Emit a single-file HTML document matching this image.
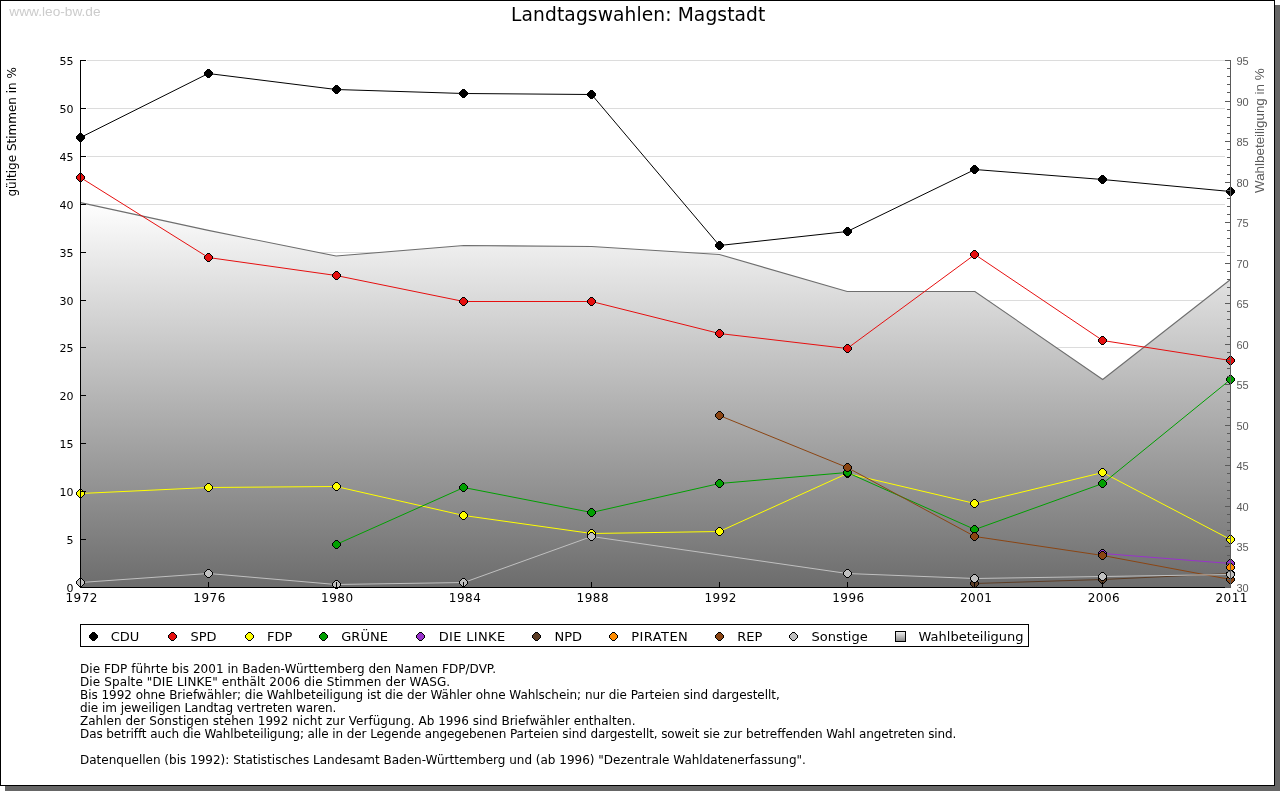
<!DOCTYPE html>
<html lang="de">
<head>
<meta charset="utf-8">
<title>Landtagswahlen: Magstadt</title>
<style>
html,body{margin:0;padding:0;background:#fff;}
body{width:1280px;height:791px;overflow:hidden;position:relative;}
svg{position:absolute;left:0;top:0;display:block;}
.dv{font-family:"DejaVu Sans","Liberation Sans",sans-serif;font-variant-ligatures:none;}
.lb{font-family:"Liberation Sans","DejaVu Sans",sans-serif;}
</style>
</head>
<body>
<svg width="1280" height="791" viewBox="0 0 1280 791">
<defs>
<linearGradient id="wbg" gradientUnits="userSpaceOnUse" x1="0" y1="202" x2="0" y2="587.5">
<stop offset="0" stop-color="#ffffff"/>
<stop offset="1" stop-color="#6c6c6c"/>
</linearGradient>
<linearGradient id="sqg" x1="0" y1="0" x2="0" y2="1">
<stop offset="0" stop-color="#f2f2f2"/>
<stop offset="1" stop-color="#858585"/>
</linearGradient>
</defs>

<g shape-rendering="crispEdges">
<rect x="5" y="5" width="1275" height="786" fill="#666666"/>
<rect x="0.5" y="0.5" width="1274" height="785" fill="#ffffff" stroke="#000000" stroke-width="1"/>
</g>
<text class="lb" x="9.3" y="15.8" font-size="13.7" fill="#cccccc" textLength="91.3" lengthAdjust="spacing">www.leo-bw.de</text>
<text class="dv" x="638.2" y="20.6" font-size="18.67" fill="#000000" text-anchor="middle" textLength="254.3" lengthAdjust="spacing">Landtagswahlen: Magstadt</text>
<g shape-rendering="crispEdges" stroke="#dcdcdc" stroke-width="1">
<line x1="87" y1="60.5" x2="1225" y2="60.5"/>
<line x1="87" y1="108.5" x2="1225" y2="108.5"/>
<line x1="87" y1="156.5" x2="1225" y2="156.5"/>
<line x1="87" y1="204.5" x2="1225" y2="204.5"/>
<line x1="87" y1="252.5" x2="1225" y2="252.5"/>
<line x1="87" y1="300.5" x2="1225" y2="300.5"/>
<line x1="87" y1="347.5" x2="1225" y2="347.5"/>
<line x1="87" y1="395.5" x2="1225" y2="395.5"/>
<line x1="87" y1="443.5" x2="1225" y2="443.5"/>
<line x1="87" y1="491.5" x2="1225" y2="491.5"/>
<line x1="87" y1="539.5" x2="1225" y2="539.5"/>
<line x1="87" y1="587.5" x2="1225" y2="587.5"/>
</g>
<polygon points="80.5,202.6 208.3,230.4 336.1,256.0 463.8,245.5 591.6,246.5 719.4,254.5 847.2,291.5 974.9,291.5 1102.7,379.5 1230.5,279.5 1230.5,587.5 80.5,587.5" fill="url(#wbg)"/>
<polyline points="80.5,202.6 208.3,230.4 336.1,256.0 463.8,245.5 591.6,246.5 719.4,254.5 847.2,291.5 974.9,291.5 1102.7,379.5 1230.5,279.5" fill="none" stroke="#6e6e6e" stroke-width="1.1"/>
<polyline points="80.5,137.5 208.3,73.5 336.1,89.5 463.8,93.5 591.6,94.5 719.4,245.5 847.2,231.5 974.9,169.5 1102.7,179.5 1230.5,191.5" fill="none" stroke="#000000" stroke-width="1.0"/>
<g shape-rendering="crispEdges">
<polygon transform="translate(80.5 137.5)" points="-1,-4.5 1,-4.5 4.5,-1 4.5,1 1,4.5 -1,4.5 -4.5,1 -4.5,-1" fill="#000000"/>
<polygon transform="translate(208.5 73.5)" points="-1,-4.5 1,-4.5 4.5,-1 4.5,1 1,4.5 -1,4.5 -4.5,1 -4.5,-1" fill="#000000"/>
<polygon transform="translate(336.5 89.5)" points="-1,-4.5 1,-4.5 4.5,-1 4.5,1 1,4.5 -1,4.5 -4.5,1 -4.5,-1" fill="#000000"/>
<polygon transform="translate(463.5 93.5)" points="-1,-4.5 1,-4.5 4.5,-1 4.5,1 1,4.5 -1,4.5 -4.5,1 -4.5,-1" fill="#000000"/>
<polygon transform="translate(591.5 94.5)" points="-1,-4.5 1,-4.5 4.5,-1 4.5,1 1,4.5 -1,4.5 -4.5,1 -4.5,-1" fill="#000000"/>
<polygon transform="translate(719.5 245.5)" points="-1,-4.5 1,-4.5 4.5,-1 4.5,1 1,4.5 -1,4.5 -4.5,1 -4.5,-1" fill="#000000"/>
<polygon transform="translate(847.5 231.5)" points="-1,-4.5 1,-4.5 4.5,-1 4.5,1 1,4.5 -1,4.5 -4.5,1 -4.5,-1" fill="#000000"/>
<polygon transform="translate(974.5 169.5)" points="-1,-4.5 1,-4.5 4.5,-1 4.5,1 1,4.5 -1,4.5 -4.5,1 -4.5,-1" fill="#000000"/>
<polygon transform="translate(1102.5 179.5)" points="-1,-4.5 1,-4.5 4.5,-1 4.5,1 1,4.5 -1,4.5 -4.5,1 -4.5,-1" fill="#000000"/>
<polygon transform="translate(1230.5 191.5)" points="-1,-4.5 1,-4.5 4.5,-1 4.5,1 1,4.5 -1,4.5 -4.5,1 -4.5,-1" fill="#000000"/>
</g>
<polyline points="80.5,177.5 208.3,257.5 336.1,275.5 463.8,301.5 591.6,301.5 719.4,333.5 847.2,348.5 974.9,254.5 1102.7,340.5 1230.5,360.5" fill="none" stroke="#e60f0f" stroke-width="1.0"/>
<g shape-rendering="crispEdges">
<polygon transform="translate(80.5 177.5)" points="-1,-4.5 1,-4.5 4.5,-1 4.5,1 1,4.5 -1,4.5 -4.5,1 -4.5,-1" fill="#000000"/>
<polygon transform="translate(80.5 177.5)" points="-1,-3.5 1,-3.5 3.5,-1 3.5,1 1,3.5 -1,3.5 -3.5,1 -3.5,-1" fill="#e60f0f"/>
<polygon transform="translate(208.5 257.5)" points="-1,-4.5 1,-4.5 4.5,-1 4.5,1 1,4.5 -1,4.5 -4.5,1 -4.5,-1" fill="#000000"/>
<polygon transform="translate(208.5 257.5)" points="-1,-3.5 1,-3.5 3.5,-1 3.5,1 1,3.5 -1,3.5 -3.5,1 -3.5,-1" fill="#e60f0f"/>
<polygon transform="translate(336.5 275.5)" points="-1,-4.5 1,-4.5 4.5,-1 4.5,1 1,4.5 -1,4.5 -4.5,1 -4.5,-1" fill="#000000"/>
<polygon transform="translate(336.5 275.5)" points="-1,-3.5 1,-3.5 3.5,-1 3.5,1 1,3.5 -1,3.5 -3.5,1 -3.5,-1" fill="#e60f0f"/>
<polygon transform="translate(463.5 301.5)" points="-1,-4.5 1,-4.5 4.5,-1 4.5,1 1,4.5 -1,4.5 -4.5,1 -4.5,-1" fill="#000000"/>
<polygon transform="translate(463.5 301.5)" points="-1,-3.5 1,-3.5 3.5,-1 3.5,1 1,3.5 -1,3.5 -3.5,1 -3.5,-1" fill="#e60f0f"/>
<polygon transform="translate(591.5 301.5)" points="-1,-4.5 1,-4.5 4.5,-1 4.5,1 1,4.5 -1,4.5 -4.5,1 -4.5,-1" fill="#000000"/>
<polygon transform="translate(591.5 301.5)" points="-1,-3.5 1,-3.5 3.5,-1 3.5,1 1,3.5 -1,3.5 -3.5,1 -3.5,-1" fill="#e60f0f"/>
<polygon transform="translate(719.5 333.5)" points="-1,-4.5 1,-4.5 4.5,-1 4.5,1 1,4.5 -1,4.5 -4.5,1 -4.5,-1" fill="#000000"/>
<polygon transform="translate(719.5 333.5)" points="-1,-3.5 1,-3.5 3.5,-1 3.5,1 1,3.5 -1,3.5 -3.5,1 -3.5,-1" fill="#e60f0f"/>
<polygon transform="translate(847.5 348.5)" points="-1,-4.5 1,-4.5 4.5,-1 4.5,1 1,4.5 -1,4.5 -4.5,1 -4.5,-1" fill="#000000"/>
<polygon transform="translate(847.5 348.5)" points="-1,-3.5 1,-3.5 3.5,-1 3.5,1 1,3.5 -1,3.5 -3.5,1 -3.5,-1" fill="#e60f0f"/>
<polygon transform="translate(974.5 254.5)" points="-1,-4.5 1,-4.5 4.5,-1 4.5,1 1,4.5 -1,4.5 -4.5,1 -4.5,-1" fill="#000000"/>
<polygon transform="translate(974.5 254.5)" points="-1,-3.5 1,-3.5 3.5,-1 3.5,1 1,3.5 -1,3.5 -3.5,1 -3.5,-1" fill="#e60f0f"/>
<polygon transform="translate(1102.5 340.5)" points="-1,-4.5 1,-4.5 4.5,-1 4.5,1 1,4.5 -1,4.5 -4.5,1 -4.5,-1" fill="#000000"/>
<polygon transform="translate(1102.5 340.5)" points="-1,-3.5 1,-3.5 3.5,-1 3.5,1 1,3.5 -1,3.5 -3.5,1 -3.5,-1" fill="#e60f0f"/>
<polygon transform="translate(1230.5 360.5)" points="-1,-4.5 1,-4.5 4.5,-1 4.5,1 1,4.5 -1,4.5 -4.5,1 -4.5,-1" fill="#000000"/>
<polygon transform="translate(1230.5 360.5)" points="-1,-3.5 1,-3.5 3.5,-1 3.5,1 1,3.5 -1,3.5 -3.5,1 -3.5,-1" fill="#e60f0f"/>
</g>
<polyline points="80.5,493.5 208.3,487.5 336.1,486.5 463.8,515.5 591.6,533.5 719.4,531.5 847.2,473.5 974.9,503.5 1102.7,472.5 1230.5,539.5" fill="none" stroke="#ffff00" stroke-width="1.0"/>
<g shape-rendering="crispEdges">
<polygon transform="translate(80.5 493.5)" points="-1,-4.5 1,-4.5 4.5,-1 4.5,1 1,4.5 -1,4.5 -4.5,1 -4.5,-1" fill="#000000"/>
<polygon transform="translate(80.5 493.5)" points="-1,-3.5 1,-3.5 3.5,-1 3.5,1 1,3.5 -1,3.5 -3.5,1 -3.5,-1" fill="#ffff00"/>
<polygon transform="translate(208.5 487.5)" points="-1,-4.5 1,-4.5 4.5,-1 4.5,1 1,4.5 -1,4.5 -4.5,1 -4.5,-1" fill="#000000"/>
<polygon transform="translate(208.5 487.5)" points="-1,-3.5 1,-3.5 3.5,-1 3.5,1 1,3.5 -1,3.5 -3.5,1 -3.5,-1" fill="#ffff00"/>
<polygon transform="translate(336.5 486.5)" points="-1,-4.5 1,-4.5 4.5,-1 4.5,1 1,4.5 -1,4.5 -4.5,1 -4.5,-1" fill="#000000"/>
<polygon transform="translate(336.5 486.5)" points="-1,-3.5 1,-3.5 3.5,-1 3.5,1 1,3.5 -1,3.5 -3.5,1 -3.5,-1" fill="#ffff00"/>
<polygon transform="translate(463.5 515.5)" points="-1,-4.5 1,-4.5 4.5,-1 4.5,1 1,4.5 -1,4.5 -4.5,1 -4.5,-1" fill="#000000"/>
<polygon transform="translate(463.5 515.5)" points="-1,-3.5 1,-3.5 3.5,-1 3.5,1 1,3.5 -1,3.5 -3.5,1 -3.5,-1" fill="#ffff00"/>
<polygon transform="translate(591.5 533.5)" points="-1,-4.5 1,-4.5 4.5,-1 4.5,1 1,4.5 -1,4.5 -4.5,1 -4.5,-1" fill="#000000"/>
<polygon transform="translate(591.5 533.5)" points="-1,-3.5 1,-3.5 3.5,-1 3.5,1 1,3.5 -1,3.5 -3.5,1 -3.5,-1" fill="#ffff00"/>
<polygon transform="translate(719.5 531.5)" points="-1,-4.5 1,-4.5 4.5,-1 4.5,1 1,4.5 -1,4.5 -4.5,1 -4.5,-1" fill="#000000"/>
<polygon transform="translate(719.5 531.5)" points="-1,-3.5 1,-3.5 3.5,-1 3.5,1 1,3.5 -1,3.5 -3.5,1 -3.5,-1" fill="#ffff00"/>
<polygon transform="translate(847.5 473.5)" points="-1,-4.5 1,-4.5 4.5,-1 4.5,1 1,4.5 -1,4.5 -4.5,1 -4.5,-1" fill="#000000"/>
<polygon transform="translate(847.5 473.5)" points="-1,-3.5 1,-3.5 3.5,-1 3.5,1 1,3.5 -1,3.5 -3.5,1 -3.5,-1" fill="#ffff00"/>
<polygon transform="translate(974.5 503.5)" points="-1,-4.5 1,-4.5 4.5,-1 4.5,1 1,4.5 -1,4.5 -4.5,1 -4.5,-1" fill="#000000"/>
<polygon transform="translate(974.5 503.5)" points="-1,-3.5 1,-3.5 3.5,-1 3.5,1 1,3.5 -1,3.5 -3.5,1 -3.5,-1" fill="#ffff00"/>
<polygon transform="translate(1102.5 472.5)" points="-1,-4.5 1,-4.5 4.5,-1 4.5,1 1,4.5 -1,4.5 -4.5,1 -4.5,-1" fill="#000000"/>
<polygon transform="translate(1102.5 472.5)" points="-1,-3.5 1,-3.5 3.5,-1 3.5,1 1,3.5 -1,3.5 -3.5,1 -3.5,-1" fill="#ffff00"/>
<polygon transform="translate(1230.5 539.5)" points="-1,-4.5 1,-4.5 4.5,-1 4.5,1 1,4.5 -1,4.5 -4.5,1 -4.5,-1" fill="#000000"/>
<polygon transform="translate(1230.5 539.5)" points="-1,-3.5 1,-3.5 3.5,-1 3.5,1 1,3.5 -1,3.5 -3.5,1 -3.5,-1" fill="#ffff00"/>
</g>
<polyline points="336.1,544.5 463.8,487.5 591.6,512.5 719.4,483.5 847.2,472.5 974.9,529.5 1102.7,483.5 1230.5,379.5" fill="none" stroke="#00a000" stroke-width="1.0"/>
<g shape-rendering="crispEdges">
<polygon transform="translate(336.5 544.5)" points="-1,-4.5 1,-4.5 4.5,-1 4.5,1 1,4.5 -1,4.5 -4.5,1 -4.5,-1" fill="#000000"/>
<polygon transform="translate(336.5 544.5)" points="-1,-3.5 1,-3.5 3.5,-1 3.5,1 1,3.5 -1,3.5 -3.5,1 -3.5,-1" fill="#00a000"/>
<polygon transform="translate(463.5 487.5)" points="-1,-4.5 1,-4.5 4.5,-1 4.5,1 1,4.5 -1,4.5 -4.5,1 -4.5,-1" fill="#000000"/>
<polygon transform="translate(463.5 487.5)" points="-1,-3.5 1,-3.5 3.5,-1 3.5,1 1,3.5 -1,3.5 -3.5,1 -3.5,-1" fill="#00a000"/>
<polygon transform="translate(591.5 512.5)" points="-1,-4.5 1,-4.5 4.5,-1 4.5,1 1,4.5 -1,4.5 -4.5,1 -4.5,-1" fill="#000000"/>
<polygon transform="translate(591.5 512.5)" points="-1,-3.5 1,-3.5 3.5,-1 3.5,1 1,3.5 -1,3.5 -3.5,1 -3.5,-1" fill="#00a000"/>
<polygon transform="translate(719.5 483.5)" points="-1,-4.5 1,-4.5 4.5,-1 4.5,1 1,4.5 -1,4.5 -4.5,1 -4.5,-1" fill="#000000"/>
<polygon transform="translate(719.5 483.5)" points="-1,-3.5 1,-3.5 3.5,-1 3.5,1 1,3.5 -1,3.5 -3.5,1 -3.5,-1" fill="#00a000"/>
<polygon transform="translate(847.5 472.5)" points="-1,-4.5 1,-4.5 4.5,-1 4.5,1 1,4.5 -1,4.5 -4.5,1 -4.5,-1" fill="#000000"/>
<polygon transform="translate(847.5 472.5)" points="-1,-3.5 1,-3.5 3.5,-1 3.5,1 1,3.5 -1,3.5 -3.5,1 -3.5,-1" fill="#00a000"/>
<polygon transform="translate(974.5 529.5)" points="-1,-4.5 1,-4.5 4.5,-1 4.5,1 1,4.5 -1,4.5 -4.5,1 -4.5,-1" fill="#000000"/>
<polygon transform="translate(974.5 529.5)" points="-1,-3.5 1,-3.5 3.5,-1 3.5,1 1,3.5 -1,3.5 -3.5,1 -3.5,-1" fill="#00a000"/>
<polygon transform="translate(1102.5 483.5)" points="-1,-4.5 1,-4.5 4.5,-1 4.5,1 1,4.5 -1,4.5 -4.5,1 -4.5,-1" fill="#000000"/>
<polygon transform="translate(1102.5 483.5)" points="-1,-3.5 1,-3.5 3.5,-1 3.5,1 1,3.5 -1,3.5 -3.5,1 -3.5,-1" fill="#00a000"/>
<polygon transform="translate(1230.5 379.5)" points="-1,-4.5 1,-4.5 4.5,-1 4.5,1 1,4.5 -1,4.5 -4.5,1 -4.5,-1" fill="#000000"/>
<polygon transform="translate(1230.5 379.5)" points="-1,-3.5 1,-3.5 3.5,-1 3.5,1 1,3.5 -1,3.5 -3.5,1 -3.5,-1" fill="#00a000"/>
</g>
<polyline points="1102.7,553.5 1230.5,563.5" fill="none" stroke="#9932cc" stroke-width="1.0"/>
<g shape-rendering="crispEdges">
<polygon transform="translate(1102.5 553.5)" points="-1,-4.5 1,-4.5 4.5,-1 4.5,1 1,4.5 -1,4.5 -4.5,1 -4.5,-1" fill="#000000"/>
<polygon transform="translate(1102.5 553.5)" points="-1,-3.5 1,-3.5 3.5,-1 3.5,1 1,3.5 -1,3.5 -3.5,1 -3.5,-1" fill="#9932cc"/>
<polygon transform="translate(1230.5 563.5)" points="-1,-4.5 1,-4.5 4.5,-1 4.5,1 1,4.5 -1,4.5 -4.5,1 -4.5,-1" fill="#000000"/>
<polygon transform="translate(1230.5 563.5)" points="-1,-3.5 1,-3.5 3.5,-1 3.5,1 1,3.5 -1,3.5 -3.5,1 -3.5,-1" fill="#9932cc"/>
</g>
<polyline points="974.9,583.5 1102.7,579.5 1230.5,573.5" fill="none" stroke="#5c3d25" stroke-width="1.0"/>
<g shape-rendering="crispEdges">
<polygon transform="translate(974.5 583.5)" points="-1,-4.5 1,-4.5 4.5,-1 4.5,1 1,4.5 -1,4.5 -4.5,1 -4.5,-1" fill="#000000"/>
<polygon transform="translate(974.5 583.5)" points="-1,-3.5 1,-3.5 3.5,-1 3.5,1 1,3.5 -1,3.5 -3.5,1 -3.5,-1" fill="#5c3d25"/>
<polygon transform="translate(1102.5 579.5)" points="-1,-4.5 1,-4.5 4.5,-1 4.5,1 1,4.5 -1,4.5 -4.5,1 -4.5,-1" fill="#000000"/>
<polygon transform="translate(1102.5 579.5)" points="-1,-3.5 1,-3.5 3.5,-1 3.5,1 1,3.5 -1,3.5 -3.5,1 -3.5,-1" fill="#5c3d25"/>
<polygon transform="translate(1230.5 573.5)" points="-1,-4.5 1,-4.5 4.5,-1 4.5,1 1,4.5 -1,4.5 -4.5,1 -4.5,-1" fill="#000000"/>
<polygon transform="translate(1230.5 573.5)" points="-1,-3.5 1,-3.5 3.5,-1 3.5,1 1,3.5 -1,3.5 -3.5,1 -3.5,-1" fill="#5c3d25"/>
</g>
<g shape-rendering="crispEdges">
<polygon transform="translate(1230.5 567.5)" points="-1,-4.5 1,-4.5 4.5,-1 4.5,1 1,4.5 -1,4.5 -4.5,1 -4.5,-1" fill="#000000"/>
<polygon transform="translate(1230.5 567.5)" points="-1,-3.5 1,-3.5 3.5,-1 3.5,1 1,3.5 -1,3.5 -3.5,1 -3.5,-1" fill="#ff8c00"/>
</g>
<polyline points="719.4,415.5 847.2,467.5 974.9,536.5 1102.7,555.5 1230.5,579.5" fill="none" stroke="#8b4513" stroke-width="1.0"/>
<g shape-rendering="crispEdges">
<polygon transform="translate(719.5 415.5)" points="-1,-4.5 1,-4.5 4.5,-1 4.5,1 1,4.5 -1,4.5 -4.5,1 -4.5,-1" fill="#000000"/>
<polygon transform="translate(719.5 415.5)" points="-1,-3.5 1,-3.5 3.5,-1 3.5,1 1,3.5 -1,3.5 -3.5,1 -3.5,-1" fill="#8b4513"/>
<polygon transform="translate(847.5 467.5)" points="-1,-4.5 1,-4.5 4.5,-1 4.5,1 1,4.5 -1,4.5 -4.5,1 -4.5,-1" fill="#000000"/>
<polygon transform="translate(847.5 467.5)" points="-1,-3.5 1,-3.5 3.5,-1 3.5,1 1,3.5 -1,3.5 -3.5,1 -3.5,-1" fill="#8b4513"/>
<polygon transform="translate(974.5 536.5)" points="-1,-4.5 1,-4.5 4.5,-1 4.5,1 1,4.5 -1,4.5 -4.5,1 -4.5,-1" fill="#000000"/>
<polygon transform="translate(974.5 536.5)" points="-1,-3.5 1,-3.5 3.5,-1 3.5,1 1,3.5 -1,3.5 -3.5,1 -3.5,-1" fill="#8b4513"/>
<polygon transform="translate(1102.5 555.5)" points="-1,-4.5 1,-4.5 4.5,-1 4.5,1 1,4.5 -1,4.5 -4.5,1 -4.5,-1" fill="#000000"/>
<polygon transform="translate(1102.5 555.5)" points="-1,-3.5 1,-3.5 3.5,-1 3.5,1 1,3.5 -1,3.5 -3.5,1 -3.5,-1" fill="#8b4513"/>
<polygon transform="translate(1230.5 579.5)" points="-1,-4.5 1,-4.5 4.5,-1 4.5,1 1,4.5 -1,4.5 -4.5,1 -4.5,-1" fill="#000000"/>
<polygon transform="translate(1230.5 579.5)" points="-1,-3.5 1,-3.5 3.5,-1 3.5,1 1,3.5 -1,3.5 -3.5,1 -3.5,-1" fill="#8b4513"/>
</g>
<polyline points="80.5,582.5 208.3,573.5 336.1,584.5 463.8,582.5 591.6,536.5 847.2,573.5 974.9,578.5 1102.7,576.5 1230.5,574.5" fill="none" stroke="#c0c0c0" stroke-width="1.0"/>
<g shape-rendering="crispEdges">
<polygon transform="translate(80.5 582.5)" points="-1,-4.5 1,-4.5 4.5,-1 4.5,1 1,4.5 -1,4.5 -4.5,1 -4.5,-1" fill="#000000"/>
<polygon transform="translate(80.5 582.5)" points="-1,-3.5 1,-3.5 3.5,-1 3.5,1 1,3.5 -1,3.5 -3.5,1 -3.5,-1" fill="#c0c0c0"/>
<polygon transform="translate(208.5 573.5)" points="-1,-4.5 1,-4.5 4.5,-1 4.5,1 1,4.5 -1,4.5 -4.5,1 -4.5,-1" fill="#000000"/>
<polygon transform="translate(208.5 573.5)" points="-1,-3.5 1,-3.5 3.5,-1 3.5,1 1,3.5 -1,3.5 -3.5,1 -3.5,-1" fill="#c0c0c0"/>
<polygon transform="translate(336.5 584.5)" points="-1,-4.5 1,-4.5 4.5,-1 4.5,1 1,4.5 -1,4.5 -4.5,1 -4.5,-1" fill="#000000"/>
<polygon transform="translate(336.5 584.5)" points="-1,-3.5 1,-3.5 3.5,-1 3.5,1 1,3.5 -1,3.5 -3.5,1 -3.5,-1" fill="#c0c0c0"/>
<polygon transform="translate(463.5 582.5)" points="-1,-4.5 1,-4.5 4.5,-1 4.5,1 1,4.5 -1,4.5 -4.5,1 -4.5,-1" fill="#000000"/>
<polygon transform="translate(463.5 582.5)" points="-1,-3.5 1,-3.5 3.5,-1 3.5,1 1,3.5 -1,3.5 -3.5,1 -3.5,-1" fill="#c0c0c0"/>
<polygon transform="translate(591.5 536.5)" points="-1,-4.5 1,-4.5 4.5,-1 4.5,1 1,4.5 -1,4.5 -4.5,1 -4.5,-1" fill="#000000"/>
<polygon transform="translate(591.5 536.5)" points="-1,-3.5 1,-3.5 3.5,-1 3.5,1 1,3.5 -1,3.5 -3.5,1 -3.5,-1" fill="#c0c0c0"/>
<polygon transform="translate(847.5 573.5)" points="-1,-4.5 1,-4.5 4.5,-1 4.5,1 1,4.5 -1,4.5 -4.5,1 -4.5,-1" fill="#000000"/>
<polygon transform="translate(847.5 573.5)" points="-1,-3.5 1,-3.5 3.5,-1 3.5,1 1,3.5 -1,3.5 -3.5,1 -3.5,-1" fill="#c0c0c0"/>
<polygon transform="translate(974.5 578.5)" points="-1,-4.5 1,-4.5 4.5,-1 4.5,1 1,4.5 -1,4.5 -4.5,1 -4.5,-1" fill="#000000"/>
<polygon transform="translate(974.5 578.5)" points="-1,-3.5 1,-3.5 3.5,-1 3.5,1 1,3.5 -1,3.5 -3.5,1 -3.5,-1" fill="#c0c0c0"/>
<polygon transform="translate(1102.5 576.5)" points="-1,-4.5 1,-4.5 4.5,-1 4.5,1 1,4.5 -1,4.5 -4.5,1 -4.5,-1" fill="#000000"/>
<polygon transform="translate(1102.5 576.5)" points="-1,-3.5 1,-3.5 3.5,-1 3.5,1 1,3.5 -1,3.5 -3.5,1 -3.5,-1" fill="#c0c0c0"/>
<polygon transform="translate(1230.5 574.5)" points="-1,-4.5 1,-4.5 4.5,-1 4.5,1 1,4.5 -1,4.5 -4.5,1 -4.5,-1" fill="#000000"/>
<polygon transform="translate(1230.5 574.5)" points="-1,-3.5 1,-3.5 3.5,-1 3.5,1 1,3.5 -1,3.5 -3.5,1 -3.5,-1" fill="#c0c0c0"/>
</g>
<g shape-rendering="crispEdges" stroke-width="1">
<line x1="80.5" y1="60" x2="80.5" y2="588" stroke="#000"/>
<line x1="81" y1="60.5" x2="86" y2="60.5" stroke="#000"/>
<line x1="81" y1="108.5" x2="86" y2="108.5" stroke="#000"/>
<line x1="81" y1="156.5" x2="86" y2="156.5" stroke="#000"/>
<line x1="81" y1="204.5" x2="86" y2="204.5" stroke="#000"/>
<line x1="81" y1="252.5" x2="86" y2="252.5" stroke="#000"/>
<line x1="81" y1="300.5" x2="86" y2="300.5" stroke="#000"/>
<line x1="81" y1="347.5" x2="86" y2="347.5" stroke="#000"/>
<line x1="81" y1="395.5" x2="86" y2="395.5" stroke="#000"/>
<line x1="81" y1="443.5" x2="86" y2="443.5" stroke="#000"/>
<line x1="81" y1="491.5" x2="86" y2="491.5" stroke="#000"/>
<line x1="81" y1="539.5" x2="86" y2="539.5" stroke="#000"/>
<line x1="81" y1="587.5" x2="86" y2="587.5" stroke="#000"/>
<line x1="80" y1="587.5" x2="1231" y2="587.5" stroke="#000"/>
<line x1="208.5" y1="582" x2="208.5" y2="587" stroke="#000"/>
<line x1="336.5" y1="582" x2="336.5" y2="587" stroke="#000"/>
<line x1="463.5" y1="582" x2="463.5" y2="587" stroke="#000"/>
<line x1="591.5" y1="582" x2="591.5" y2="587" stroke="#000"/>
<line x1="719.5" y1="582" x2="719.5" y2="587" stroke="#000"/>
<line x1="847.5" y1="582" x2="847.5" y2="587" stroke="#000"/>
<line x1="974.5" y1="582" x2="974.5" y2="587" stroke="#000"/>
<line x1="1102.5" y1="582" x2="1102.5" y2="587" stroke="#000"/>
<line x1="1230.5" y1="60" x2="1230.5" y2="588" stroke="#5a5a5a"/>
<line x1="1225" y1="587.5" x2="1230" y2="587.5" stroke="#5a5a5a"/>
<line x1="1227" y1="579.5" x2="1230" y2="579.5" stroke="#5a5a5a"/>
<line x1="1227" y1="571.5" x2="1230" y2="571.5" stroke="#5a5a5a"/>
<line x1="1227" y1="563.5" x2="1230" y2="563.5" stroke="#5a5a5a"/>
<line x1="1227" y1="555.5" x2="1230" y2="555.5" stroke="#5a5a5a"/>
<line x1="1225" y1="546.5" x2="1230" y2="546.5" stroke="#5a5a5a"/>
<line x1="1227" y1="538.5" x2="1230" y2="538.5" stroke="#5a5a5a"/>
<line x1="1227" y1="530.5" x2="1230" y2="530.5" stroke="#5a5a5a"/>
<line x1="1227" y1="522.5" x2="1230" y2="522.5" stroke="#5a5a5a"/>
<line x1="1227" y1="514.5" x2="1230" y2="514.5" stroke="#5a5a5a"/>
<line x1="1225" y1="506.5" x2="1230" y2="506.5" stroke="#5a5a5a"/>
<line x1="1227" y1="498.5" x2="1230" y2="498.5" stroke="#5a5a5a"/>
<line x1="1227" y1="490.5" x2="1230" y2="490.5" stroke="#5a5a5a"/>
<line x1="1227" y1="482.5" x2="1230" y2="482.5" stroke="#5a5a5a"/>
<line x1="1227" y1="473.5" x2="1230" y2="473.5" stroke="#5a5a5a"/>
<line x1="1225" y1="465.5" x2="1230" y2="465.5" stroke="#5a5a5a"/>
<line x1="1227" y1="457.5" x2="1230" y2="457.5" stroke="#5a5a5a"/>
<line x1="1227" y1="449.5" x2="1230" y2="449.5" stroke="#5a5a5a"/>
<line x1="1227" y1="441.5" x2="1230" y2="441.5" stroke="#5a5a5a"/>
<line x1="1227" y1="433.5" x2="1230" y2="433.5" stroke="#5a5a5a"/>
<line x1="1225" y1="425.5" x2="1230" y2="425.5" stroke="#5a5a5a"/>
<line x1="1227" y1="417.5" x2="1230" y2="417.5" stroke="#5a5a5a"/>
<line x1="1227" y1="409.5" x2="1230" y2="409.5" stroke="#5a5a5a"/>
<line x1="1227" y1="401.5" x2="1230" y2="401.5" stroke="#5a5a5a"/>
<line x1="1227" y1="392.5" x2="1230" y2="392.5" stroke="#5a5a5a"/>
<line x1="1225" y1="384.5" x2="1230" y2="384.5" stroke="#5a5a5a"/>
<line x1="1227" y1="376.5" x2="1230" y2="376.5" stroke="#5a5a5a"/>
<line x1="1227" y1="368.5" x2="1230" y2="368.5" stroke="#5a5a5a"/>
<line x1="1227" y1="360.5" x2="1230" y2="360.5" stroke="#5a5a5a"/>
<line x1="1227" y1="352.5" x2="1230" y2="352.5" stroke="#5a5a5a"/>
<line x1="1225" y1="344.5" x2="1230" y2="344.5" stroke="#5a5a5a"/>
<line x1="1227" y1="336.5" x2="1230" y2="336.5" stroke="#5a5a5a"/>
<line x1="1227" y1="328.5" x2="1230" y2="328.5" stroke="#5a5a5a"/>
<line x1="1227" y1="319.5" x2="1230" y2="319.5" stroke="#5a5a5a"/>
<line x1="1227" y1="311.5" x2="1230" y2="311.5" stroke="#5a5a5a"/>
<line x1="1225" y1="303.5" x2="1230" y2="303.5" stroke="#5a5a5a"/>
<line x1="1227" y1="295.5" x2="1230" y2="295.5" stroke="#5a5a5a"/>
<line x1="1227" y1="287.5" x2="1230" y2="287.5" stroke="#5a5a5a"/>
<line x1="1227" y1="279.5" x2="1230" y2="279.5" stroke="#5a5a5a"/>
<line x1="1227" y1="271.5" x2="1230" y2="271.5" stroke="#5a5a5a"/>
<line x1="1225" y1="263.5" x2="1230" y2="263.5" stroke="#5a5a5a"/>
<line x1="1227" y1="255.5" x2="1230" y2="255.5" stroke="#5a5a5a"/>
<line x1="1227" y1="246.5" x2="1230" y2="246.5" stroke="#5a5a5a"/>
<line x1="1227" y1="238.5" x2="1230" y2="238.5" stroke="#5a5a5a"/>
<line x1="1227" y1="230.5" x2="1230" y2="230.5" stroke="#5a5a5a"/>
<line x1="1225" y1="222.5" x2="1230" y2="222.5" stroke="#5a5a5a"/>
<line x1="1227" y1="214.5" x2="1230" y2="214.5" stroke="#5a5a5a"/>
<line x1="1227" y1="206.5" x2="1230" y2="206.5" stroke="#5a5a5a"/>
<line x1="1227" y1="198.5" x2="1230" y2="198.5" stroke="#5a5a5a"/>
<line x1="1227" y1="190.5" x2="1230" y2="190.5" stroke="#5a5a5a"/>
<line x1="1225" y1="182.5" x2="1230" y2="182.5" stroke="#5a5a5a"/>
<line x1="1227" y1="174.5" x2="1230" y2="174.5" stroke="#5a5a5a"/>
<line x1="1227" y1="165.5" x2="1230" y2="165.5" stroke="#5a5a5a"/>
<line x1="1227" y1="157.5" x2="1230" y2="157.5" stroke="#5a5a5a"/>
<line x1="1227" y1="149.5" x2="1230" y2="149.5" stroke="#5a5a5a"/>
<line x1="1225" y1="141.5" x2="1230" y2="141.5" stroke="#5a5a5a"/>
<line x1="1227" y1="133.5" x2="1230" y2="133.5" stroke="#5a5a5a"/>
<line x1="1227" y1="125.5" x2="1230" y2="125.5" stroke="#5a5a5a"/>
<line x1="1227" y1="117.5" x2="1230" y2="117.5" stroke="#5a5a5a"/>
<line x1="1227" y1="109.5" x2="1230" y2="109.5" stroke="#5a5a5a"/>
<line x1="1225" y1="101.5" x2="1230" y2="101.5" stroke="#5a5a5a"/>
<line x1="1227" y1="92.5" x2="1230" y2="92.5" stroke="#5a5a5a"/>
<line x1="1227" y1="84.5" x2="1230" y2="84.5" stroke="#5a5a5a"/>
<line x1="1227" y1="76.5" x2="1230" y2="76.5" stroke="#5a5a5a"/>
<line x1="1227" y1="68.5" x2="1230" y2="68.5" stroke="#5a5a5a"/>
<line x1="1225" y1="60.5" x2="1230" y2="60.5" stroke="#5a5a5a"/>
</g>
<g class="dv" font-size="11" fill="#000" text-anchor="end">
<text x="73.5" y="65.1">55</text>
<text x="73.5" y="113.1">50</text>
<text x="73.5" y="161.1">45</text>
<text x="73.5" y="209.1">40</text>
<text x="73.5" y="257.1">35</text>
<text x="73.5" y="305.1">30</text>
<text x="73.5" y="352.1">25</text>
<text x="73.5" y="400.1">20</text>
<text x="73.5" y="448.1">15</text>
<text x="73.5" y="496.1">10</text>
<text x="73.5" y="544.1">5</text>
<text x="73.5" y="592.1">0</text>
</g>
<g class="lb" font-size="11" fill="#5a5a5a">
<text x="1236.5" y="591.9">30</text>
<text x="1236.5" y="550.9">35</text>
<text x="1236.5" y="510.9">40</text>
<text x="1236.5" y="469.9">45</text>
<text x="1236.5" y="429.9">50</text>
<text x="1236.5" y="388.9">55</text>
<text x="1236.5" y="348.9">60</text>
<text x="1236.5" y="307.9">65</text>
<text x="1236.5" y="267.9">70</text>
<text x="1236.5" y="226.9">75</text>
<text x="1236.5" y="186.9">80</text>
<text x="1236.5" y="145.9">85</text>
<text x="1236.5" y="105.9">90</text>
<text x="1236.5" y="64.9">95</text>
</g>
<g class="dv" font-size="12" fill="#000" text-anchor="middle">
<text x="81.5" y="602.2" textLength="32" lengthAdjust="spacing">1972</text>
<text x="209.3" y="602.2" textLength="32" lengthAdjust="spacing">1976</text>
<text x="337.1" y="602.2" textLength="32" lengthAdjust="spacing">1980</text>
<text x="464.8" y="602.2" textLength="32" lengthAdjust="spacing">1984</text>
<text x="592.6" y="602.2" textLength="32" lengthAdjust="spacing">1988</text>
<text x="720.4" y="602.2" textLength="32" lengthAdjust="spacing">1992</text>
<text x="848.2" y="602.2" textLength="32" lengthAdjust="spacing">1996</text>
<text x="975.9" y="602.2" textLength="32" lengthAdjust="spacing">2001</text>
<text x="1103.7" y="602.2" textLength="32" lengthAdjust="spacing">2006</text>
<text x="1231.5" y="602.2" textLength="32" lengthAdjust="spacing">2011</text>
</g>
<text class="dv" font-size="12" fill="#000" transform="translate(15.8,196.5) rotate(-90)">gültige Stimmen in %</text>
<text class="lb" font-size="13.4" fill="#5a5a5a" transform="translate(1264,193) rotate(-90)">Wahlbeteiligung in %</text>
<rect x="80.5" y="624.5" width="948" height="22" fill="#fff" stroke="#000" stroke-width="1" shape-rendering="crispEdges"/>
<g shape-rendering="crispEdges">
<polygon transform="translate(93.5 636.5)" points="-1,-4.5 1,-4.5 4.5,-1 4.5,1 1,4.5 -1,4.5 -4.5,1 -4.5,-1" fill="#000000"/>
<polygon transform="translate(172.5 636.5)" points="-1,-4.5 1,-4.5 4.5,-1 4.5,1 1,4.5 -1,4.5 -4.5,1 -4.5,-1" fill="#000000"/>
<polygon transform="translate(172.5 636.5)" points="-1,-3.5 1,-3.5 3.5,-1 3.5,1 1,3.5 -1,3.5 -3.5,1 -3.5,-1" fill="#e60f0f"/>
<polygon transform="translate(249.5 636.5)" points="-1,-4.5 1,-4.5 4.5,-1 4.5,1 1,4.5 -1,4.5 -4.5,1 -4.5,-1" fill="#000000"/>
<polygon transform="translate(249.5 636.5)" points="-1,-3.5 1,-3.5 3.5,-1 3.5,1 1,3.5 -1,3.5 -3.5,1 -3.5,-1" fill="#ffff00"/>
<polygon transform="translate(323.5 636.5)" points="-1,-4.5 1,-4.5 4.5,-1 4.5,1 1,4.5 -1,4.5 -4.5,1 -4.5,-1" fill="#000000"/>
<polygon transform="translate(323.5 636.5)" points="-1,-3.5 1,-3.5 3.5,-1 3.5,1 1,3.5 -1,3.5 -3.5,1 -3.5,-1" fill="#00a000"/>
<polygon transform="translate(420.5 636.5)" points="-1,-4.5 1,-4.5 4.5,-1 4.5,1 1,4.5 -1,4.5 -4.5,1 -4.5,-1" fill="#000000"/>
<polygon transform="translate(420.5 636.5)" points="-1,-3.5 1,-3.5 3.5,-1 3.5,1 1,3.5 -1,3.5 -3.5,1 -3.5,-1" fill="#9932cc"/>
<polygon transform="translate(536.5 636.5)" points="-1,-4.5 1,-4.5 4.5,-1 4.5,1 1,4.5 -1,4.5 -4.5,1 -4.5,-1" fill="#000000"/>
<polygon transform="translate(536.5 636.5)" points="-1,-3.5 1,-3.5 3.5,-1 3.5,1 1,3.5 -1,3.5 -3.5,1 -3.5,-1" fill="#5c3d25"/>
<polygon transform="translate(613.5 636.5)" points="-1,-4.5 1,-4.5 4.5,-1 4.5,1 1,4.5 -1,4.5 -4.5,1 -4.5,-1" fill="#000000"/>
<polygon transform="translate(613.5 636.5)" points="-1,-3.5 1,-3.5 3.5,-1 3.5,1 1,3.5 -1,3.5 -3.5,1 -3.5,-1" fill="#ff8c00"/>
<polygon transform="translate(719.5 636.5)" points="-1,-4.5 1,-4.5 4.5,-1 4.5,1 1,4.5 -1,4.5 -4.5,1 -4.5,-1" fill="#000000"/>
<polygon transform="translate(719.5 636.5)" points="-1,-3.5 1,-3.5 3.5,-1 3.5,1 1,3.5 -1,3.5 -3.5,1 -3.5,-1" fill="#8b4513"/>
<polygon transform="translate(793.5 636.5)" points="-1,-4.5 1,-4.5 4.5,-1 4.5,1 1,4.5 -1,4.5 -4.5,1 -4.5,-1" fill="#000000"/>
<polygon transform="translate(793.5 636.5)" points="-1,-3.5 1,-3.5 3.5,-1 3.5,1 1,3.5 -1,3.5 -3.5,1 -3.5,-1" fill="#c0c0c0"/>
<rect x="895.5" y="631.5" width="10" height="10" fill="url(#sqg)" stroke="#000" stroke-width="1"/>
</g>
<g class="dv" font-size="13" fill="#000">
<text x="110.7" y="640.8">CDU</text>
<text x="190.5" y="640.8">SPD</text>
<text x="267.0" y="640.8">FDP</text>
<text x="341.3" y="640.8">GRÜNE</text>
<text x="438.7" y="640.8" textLength="66.4" lengthAdjust="spacing">DIE LINKE</text>
<text x="554.5" y="640.8">NPD</text>
<text x="631.3" y="640.8" textLength="56.5" lengthAdjust="spacing">PIRATEN</text>
<text x="737.3" y="640.8">REP</text>
<text x="811.5" y="640.8">Sonstige</text>
<text x="918.6" y="640.8">Wahlbeteiligung</text>
</g>
<g class="dv" font-size="12" fill="#000">
<text x="80" y="673.0" textLength="416.1" lengthAdjust="spacing">Die FDP führte bis 2001 in Baden-Württemberg den Namen FDP/DVP.</text>
<text x="80" y="686.0" textLength="370.2" lengthAdjust="spacing">Die Spalte &quot;DIE LINKE&quot; enthält 2006 die Stimmen der WASG.</text>
<text x="80" y="699.0" textLength="699.8" lengthAdjust="spacing">Bis 1992 ohne Briefwähler; die Wahlbeteiligung ist die der Wähler ohne Wahlschein; nur die Parteien sind dargestellt,</text>
<text x="80" y="712.0" textLength="256.4" lengthAdjust="spacing">die im jeweiligen Landtag vertreten waren.</text>
<text x="80" y="725.0" textLength="555.5" lengthAdjust="spacing">Zahlen der Sonstigen stehen 1992 nicht zur Verfügung. Ab 1996 sind Briefwähler enthalten.</text>
<text x="80" y="738.0" textLength="876.4" lengthAdjust="spacing">Das betrifft auch die Wahlbeteiligung; alle in der Legende angegebenen Parteien sind dargestellt, soweit sie zur betreffenden Wahl angetreten sind.</text>
<text x="80" y="764.0" textLength="725.9" lengthAdjust="spacing">Datenquellen (bis 1992): Statistisches Landesamt Baden-Württemberg und (ab 1996) &quot;Dezentrale Wahldatenerfassung&quot;.</text>
</g>
</svg>
</body>
</html>
